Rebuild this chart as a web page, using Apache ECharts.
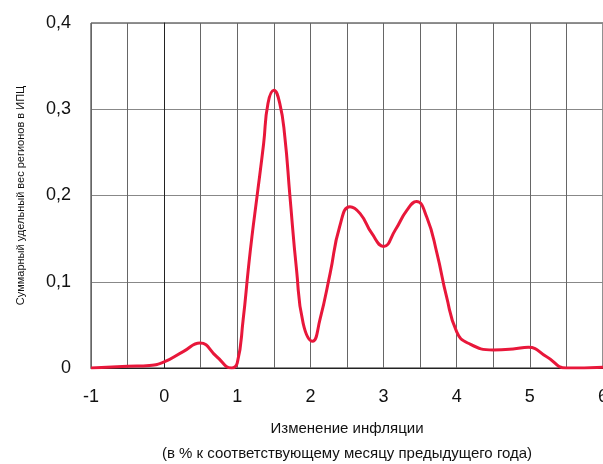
<!DOCTYPE html>
<html>
<head>
<meta charset="utf-8">
<script src="https://cdn.jsdelivr.net/npm/echarts@6/dist/echarts.min.js"></script>
<style>
  html, body { margin: 0; padding: 0; background: #fff; }
  #chart { width: 603px; height: 464px; }
</style>
</head>
<body>
<div id="chart"></div>
<script>
  // изменение инфляции, п.п.
  var xValues = [-1, -0.5, -0.2, 0, 0.26, 0.49, 0.72, 0.92, 1.0, 1.08, 1.15, 1.2, 1.27, 1.36, 1.42, 1.5, 1.58, 1.65,
    1.72, 1.81, 1.9, 2.03, 2.13, 2.27, 2.4, 2.54, 2.68, 2.84, 3.0, 3.16, 3.32, 3.45, 3.59, 3.73, 3.86, 4.0, 4.15,
    4.5, 4.77, 4.98, 5.23, 5.5, 6.0];
  // суммарный удельный вес регионов
  var weights = [0, 0.002, 0.003, 0.007, 0.019, 0.029, 0.013, 0.0, 0.006, 0.056, 0.114, 0.152, 0.199, 0.26, 0.307, 0.322, 0.307, 0.268,
    0.199, 0.114, 0.052, 0.031, 0.056, 0.11, 0.164, 0.187, 0.179, 0.156, 0.141, 0.16, 0.183, 0.193, 0.175, 0.133, 0.083, 0.042, 0.029,
    0.021, 0.022, 0.024, 0.013, 0.0, 0.001];
  var yTicks = [0, 0.1, 0.2, 0.3, 0.4];

  var font = "'Liberation Sans', Arial, sans-serif";
  var points = xValues.map(function (x, i) { return [x, weights[i]]; });

  var myChart = echarts.init(document.getElementById('chart'));
  var option = {
    backgroundColor: '#fff',
    animation: false,
    textStyle: { fontFamily: font, color: '#111' },
    grid: {
      left: 91,
      right: 0,
      top: 23,
      bottom: 96,
      containLabel: false,
      outerBoundsMode: 'none',
      show: true,
      borderColor: '#222',
      borderWidth: 1
    },
    xAxis: {
      type: 'value',
      min: -1,
      max: 6,
      interval: 0.5,
      name: 'Изменение инфляции\n(в % к соответствующему месяцу предыдущего года)',
      nameLocation: 'middle',
      nameGap: 48,
      nameTextStyle: { fontFamily: font, fontSize: 15, color: '#111', lineHeight: 25 },
      axisLine: { show: true, lineStyle: { color: '#222', width: 1 } },
      axisTick: { show: false },
      axisLabel: {
        margin: 20,
        fontSize: 18,
        color: '#111',
        fontFamily: font,
        formatter: function (v) {
          return Number.isInteger(v) ? String(v) : '';
        }
      },
      splitLine: { show: true, lineStyle: { color: '#666', width: 1 } }
    },
    yAxis: {
      type: 'value',
      min: yTicks[0],
      max: yTicks[yTicks.length - 1],
      interval: 0.1,
      name: 'Суммарный удельный вес регионов в ИПЦ',
      nameLocation: 'middle',
      nameGap: 65,
      nameTextStyle: { fontFamily: font, fontSize: 11, color: '#111' },
      axisLine: { show: true, lineStyle: { color: '#222', width: 1 } },
      axisTick: { show: false },
      axisLabel: {
        margin: 20,
        fontSize: 18,
        color: '#111',
        fontFamily: font,
        formatter: function (v) {
          return v === 0 ? '0' : v.toFixed(1).replace('.', ',');
        }
      },
      splitLine: { show: true, lineStyle: { color: '#888', width: 1 } }
    },
    series: [{
      type: 'line',
      data: points,
      smooth: 0.5,
      showSymbol: false,
      lineStyle: { color: '#e8173a', width: 3 },
      itemStyle: { color: '#e8173a' }
    }]
  };
  myChart.setOption(option, true);
</script>
</body>
</html>
